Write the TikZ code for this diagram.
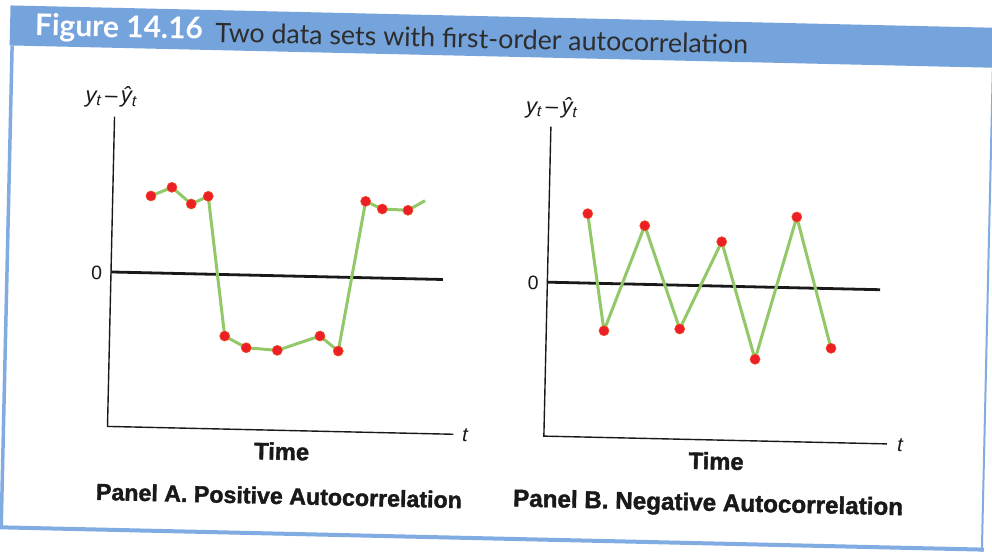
\documentclass[tikz,border=0pt]{standalone}
\usepackage{fontspec}
\usepackage{graphicx}
\setmainfont{Liberation Sans}
\newfontfamily\titlefont{Lato}
\newfontfamily\heavyfont[BoldFeatures={FakeBold=1.6}]{Liberation Sans}
\definecolor{bandblue}{RGB}{117,163,219}
\definecolor{borderblue}{RGB}{128,172,226}
\definecolor{serieg}{RGB}{146,200,104}
\definecolor{dotred}{RGB}{236,30,38}
\definecolor{titlegray}{RGB}{45,45,45}
\definecolor{ink}{RGB}{25,25,25}
\begin{document}
\begin{tikzpicture}[x=1pt,y=-1pt,
  dot/.style={circle,fill=dotred,draw=dotred!80!yellow,line width=0.6,minimum size=10,inner sep=0pt},
  serie/.style={draw=serieg,line width=3,line join=round},
  axisline/.style={draw=ink,line width=1.4},
  zeroline/.style={draw=ink,line width=2.8},
  lab/.style={text=ink,inner sep=0pt},
  framefill/.style={fill=bandblue},
  frameline/.style={draw=borderblue}
]
\useasboundingbox (0,0) rectangle (992,552);
\fill[white] (0,0) rectangle (992,552);
\begin{scope}[rotate around={-1.3:(496,276)}, transform shape]
  % frame
  \fill[framefill] (4.5,16.5) rectangle (990,56.5);
  \draw[frameline,line width=3.5] (7,56.5) -- (7,538.5);
  \draw[frameline,line width=4] (5.25,538.5) -- (990,538.5);
  \draw[frameline,line width=2] (988,56.5) -- (988,540.5);
  % title
  \node[anchor=base west,text=white,inner sep=0pt] (fig) at (29.3,46) {\resizebox{168pt}{!}{\titlefont\bfseries Figure 14.16}};
  \node[anchor=base west,text=titlegray,inner sep=0pt] (ttl) at (209.6,48.5) {\resizebox{533pt}{!}{\titlefont Two data sets with first-order autocorrelation}};

  % ---------- Panel A ----------
  \coordinate (aTop) at (111,125.4);
  \coordinate (aOrig) at (111,435.2);
  \coordinate (aRight) at (457,435.2);
  \coordinate (aZ0) at (111,280.7);
  \coordinate (aZ1) at (443,280.7);
  \draw[axisline] (aTop) -- (aOrig) -- (aRight);
  \draw[zeroline] (aZ0) -- (aZ1);
  \node[lab] (ya) at (107.4,105.7) {\resizebox{52pt}{!}{\itshape y\textsubscript{t}\kern1.5pt–\kern1.5pt ŷ\textsubscript{t}}};
  \node[lab,anchor=base] (za) at (96.6,288.4) {\fontsize{19.5}{20}\selectfont 0};
  \node[lab,anchor=base] (ta) at (468.6,442.4) {\fontsize{20}{20}\selectfont\itshape t};
  \node[lab,anchor=base] (timea) at (285.7,464.6) {\resizebox{55pt}{!}{\heavyfont\bfseries Time}};
  \node[lab,anchor=base] (pana) at (284,508.9) {\resizebox{366pt}{!}{\heavyfont\bfseries Panel A. Positive Autocorrelation}};

  \foreach \n/\x/\y in {1/149.2/203.8, 2/170/194.7, 3/189.7/210.9, 4/206.5/202.8,
                        5/226.1/342.2, 6/247.9/353.4, 7/279/355.3, 8/321.4/340,
                        9/340/354.6, 10/364/204.3, 11/380.8/211.6, 12/406.5/212.3}
    \coordinate (pa\n) at (\x,\y);
  \coordinate (aEnd) at (423.3,202.3);
  \draw[serie] (pa1) -- (pa2) -- (pa3) -- (pa4) -- (pa5) -- (pa6) -- (pa7) -- (pa8)
     -- (pa9) -- (pa10) -- (pa11) -- (pa12) -- (aEnd);
  \foreach \n in {1,...,12} \node[dot] (a\n) at (pa\n) {};

  % ---------- Panel B ----------
  \coordinate (bTop) at (547.5,125.5);
  \coordinate (bOrig) at (547.5,435);
  \coordinate (bRight) at (890.5,435);
  \coordinate (bZ0) at (547.5,281);
  \coordinate (bZ1) at (880.3,281);
  \draw[axisline] (bTop) -- (bOrig) -- (bRight);
  \draw[zeroline] (bZ0) -- (bZ1);
  \node[lab] (yb) at (548.2,106.7) {\resizebox{52pt}{!}{\itshape y\textsubscript{t}\kern1.5pt–\kern1.5pt ŷ\textsubscript{t}}};
  \node[lab,anchor=base] (zb) at (533.4,288.8) {\fontsize{19.5}{20}\selectfont 0};
  \node[lab,anchor=base] (tb) at (903.9,442.5) {\fontsize{20}{20}\selectfont\itshape t};
  \node[lab,anchor=base] (timeb) at (720.3,464.4) {\resizebox{55pt}{!}{\heavyfont\bfseries Time}};
  \node[lab,anchor=base] (panb) at (713.2,505.9) {\resizebox{390pt}{!}{\heavyfont\bfseries Panel B. Negative Autocorrelation}};

  \foreach \n/\x/\y in {1/586.3/211.6, 2/605.2/328.3, 3/643.6/222.3, 4/680.9/324.8,
                        5/720.9/236.6, 6/756.9/353.4, 7/795.4/210.2, 8/832.6/340.7}
    \coordinate (pb\n) at (\x,\y);
  \draw[serie] (pb1) -- (pb2) -- (pb3) -- (pb4) -- (pb5) -- (pb6) -- (pb7) -- (pb8);
  \foreach \n in {1,...,8} \node[dot] (b\n) at (pb\n) {};
\end{scope}
\end{tikzpicture}
\end{document}
